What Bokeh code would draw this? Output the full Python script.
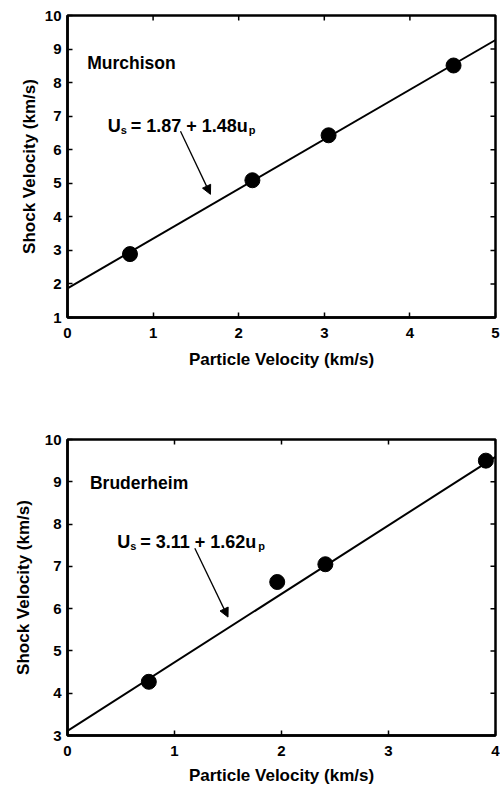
import math
from bokeh.plotting import figure
from bokeh.models import FixedTicker, Label, Arrow, NormalHead, Range1d
from bokeh.layouts import column
from bokeh.embed import file_html
from bokeh.resources import INLINE

FONT = "Liberation Sans"

# ---- Murchison (top panel) ----
murch_up = [0.73, 2.16, 3.05, 4.51]
murch_us = [2.89, 5.09, 6.43, 8.51]
murch_fit_x = [0.0, 5.0]
murch_fit_y = [1.87, 9.27]
murch_xticks = [0, 1, 2, 3, 4, 5]
murch_yticks = [1, 2, 3, 4, 5, 6, 7, 8, 9, 10]
murch_eq = ("1.87", "1.48")

# ---- Bruderheim (bottom panel) ----
brud_up = [0.76, 1.96, 2.41, 3.91]
brud_us = [4.27, 6.63, 7.05, 9.50]
brud_fit_x = [0.0, 4.0]
brud_fit_y = [3.11, 9.59]
brud_xticks = [0, 1, 2, 3, 4]
brud_yticks = [3, 4, 5, 6, 7, 8, 9, 10]
brud_eq = ("3.11", "1.62")


def style_axis(ax, ticks, standoff):
    ax.ticker = FixedTicker(ticks=ticks)
    ax.axis_line_width = 2.5
    ax.axis_line_color = "black"
    ax.major_tick_in = 5
    ax.major_tick_out = 0
    ax.major_tick_line_width = 1.5
    ax.major_tick_line_color = "black"
    ax.minor_tick_line_color = None
    ax.major_label_text_font = FONT
    ax.major_label_text_font_size = "15px"
    ax.major_label_text_font_style = "bold"
    ax.major_label_text_color = "black"
    ax.major_label_standoff = standoff
    ax.axis_label_text_font = FONT
    ax.axis_label_text_font_size = "17px"
    ax.axis_label_text_font_style = "bold"
    ax.axis_label_text_color = "black"


def build(up, us, fit_x, fit_y, x_rng, y_rng, xticks, yticks, name, name_xy,
          eq, eq_xy, arr, frame_w, frame_h, b_left, b_right, b_top, b_bottom,
          ylab_standoff, xlab_standoff):
    p = figure(width=b_left + frame_w + b_right, height=b_top + frame_h + b_bottom,
               x_range=Range1d(*x_rng), y_range=Range1d(*y_rng),
               output_backend="svg", toolbar_location=None,
               x_axis_label="Particle Velocity (km/s)",
               y_axis_label="Shock Velocity (km/s)",
               min_border_left=b_left, min_border_top=b_top,
               min_border_bottom=b_bottom, min_border_right=b_right)
    p.grid.visible = False
    p.outline_line_color = "black"
    p.outline_line_width = 2.5
    p.background_fill_color = "white"
    p.border_fill_color = "white"

    style_axis(p.below[0], xticks, 10)
    style_axis(p.left[0], yticks, 6)
    p.left[0].axis_label_standoff = ylab_standoff
    p.below[0].axis_label_standoff = xlab_standoff

    # inward ticks on the top and right edges (half of each dash is clipped by the frame)
    p.scatter(xticks, [y_rng[1]] * len(xticks), marker="dash", angle=math.pi / 2,
              size=10, line_width=1.5, line_color="black")
    p.scatter([x_rng[1]] * len(yticks), yticks, marker="dash",
              size=10, line_width=1.5, line_color="black")

    p.line(fit_x, fit_y, line_width=2, color="black")
    p.scatter(up, us, size=15, color="black")

    p.add_layout(Label(x=name_xy[0], y=name_xy[1], text=name, text_font=FONT,
                       text_font_size="17.5px", text_font_style="bold",
                       text_baseline="alphabetic", text_color="black"))

    pieces = [("U", 0, 0, "18px"), ("s", 13, -4, "11px"),
              ("= %s + %su" % eq, 23, 0, "18px"), ("p", 141, -4, "11px")]
    for txt, dx, dy, fs in pieces:
        p.add_layout(Label(x=eq_xy[0], y=eq_xy[1], x_offset=dx, y_offset=dy,
                           text=txt, text_font=FONT, text_font_size=fs,
                           text_font_style="bold", text_baseline="alphabetic",
                           text_color="black"))

    p.add_layout(Arrow(end=NormalHead(size=9, fill_color="black", line_color="black", line_width=1),
                       x_start=arr[0], y_start=arr[1], x_end=arr[2], y_end=arr[3],
                       line_width=1.3, line_color="black"))
    return p


p1 = build(murch_up, murch_us, murch_fit_x, murch_fit_y, (0, 5), (1, 10),
           murch_xticks, murch_yticks, "Murchison", (0.23, 8.57),
           murch_eq, (0.47, 6.70), (1.32, 6.55, 1.67, 4.67),
           433, 302, 62, 5, 15, 110, 3, 9)

p2 = build(brud_up, brud_us, brud_fit_x, brud_fit_y, (0, 4), (3, 10),
           brud_xticks, brud_yticks, "Bruderheim", (0.21, 8.96),
           brud_eq, (0.465, 7.57), (1.19, 7.43, 1.50, 5.80),
           430, 297, 67, 3, 12, 51, 9, 7)

layout = column(p1, p2, spacing=0)
open("out.html", "w").write(file_html(layout, INLINE))
